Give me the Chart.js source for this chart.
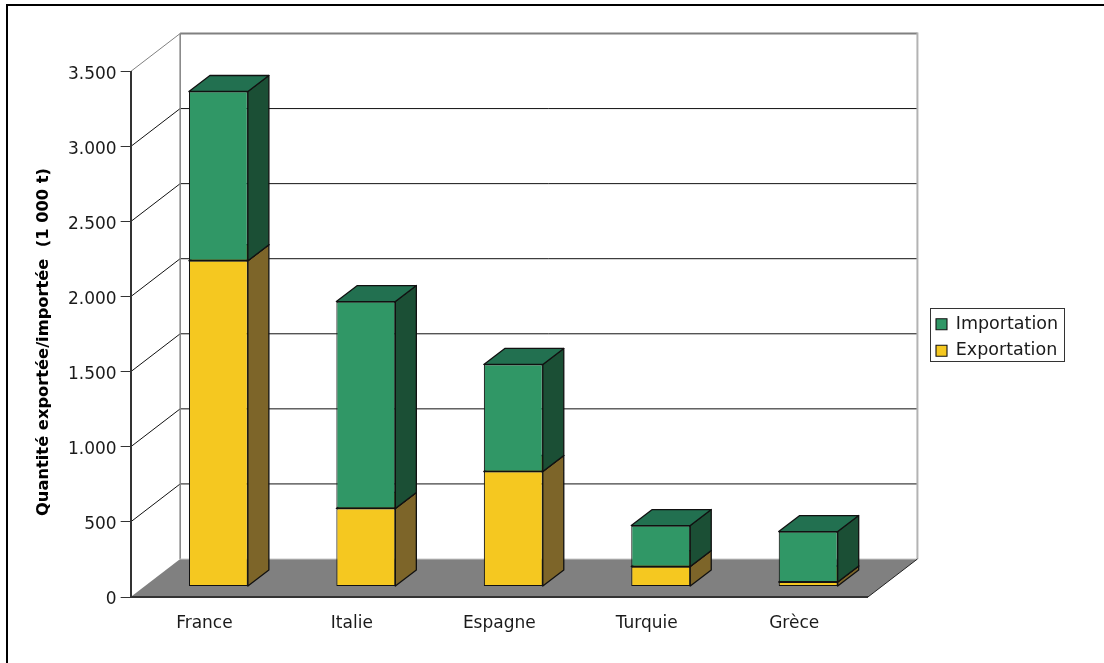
<!DOCTYPE html>
<html lang="fr">
<head>
<meta charset="utf-8">
<title>Quantité exportée/importée</title>
<script src="https://cdn.jsdelivr.net/npm/chart.js@4/dist/chart.umd.min.js"></script>
<style>
  html, body { margin: 0; padding: 0; background: #fff; overflow: hidden; }
  #frame {
    position: absolute;
    left: 6px; top: 4px; right: 0; bottom: 0;
    border-left: 2px solid #000;
    border-top: 2px solid #000;
  }
  #chart { position: absolute; left: 0; top: 0; }
</style>
</head>
<body>
<div id="frame"></div>
<canvas id="chart" width="1104" height="663"></canvas>
<script>
const categories = ['France', 'Italie', 'Espagne', 'Turquie', 'Grèce'];
const exportation = [2170, 520, 766, 133, 30];
const importation = [1127, 1378, 713, 273, 336];
const axisTitle = 'Quantité exportée/importée  (1 000 t)';

const FONT = '"DejaVu Sans", Verdana, sans-serif';
const TEXT_COLOR = '#1a1a1a';

// depth of the box behind the front plane, and where the bars sit inside it
const WALL = { dx: 49.5, dy: 38 };
const BAR_SHIFT = { dx: 14, dy: 10.5 };
const BAR_DEPTH = { dx: 21, dy: 16 };

const LEGEND_FRAME = { x: 930, y: 308, width: 134, height: 53 };

const FACES = {
  Exportation: { side: '#7d6529', top: '#a8891f' },
  Importation: { side: '#1b4f35', top: '#227050' }
};

function line (ctx, x0, y0, x1, y1, color, width) {
  ctx.beginPath();
  ctx.moveTo(x0, y0);
  ctx.lineTo(x1, y1);
  ctx.strokeStyle = color;
  ctx.lineWidth = width;
  ctx.stroke();
}

function polygon (ctx, points, fill) {
  ctx.beginPath();
  points.forEach(([x, y], i) => i ? ctx.lineTo(x, y) : ctx.moveTo(x, y));
  ctx.closePath();
  ctx.fillStyle = fill;
  ctx.fill();
  ctx.strokeStyle = '#111';
  ctx.lineWidth = 1.3;
  ctx.lineJoin = 'round';
  ctx.stroke();
}

// back wall, floor and the grid lines running round them
const boxPlugin = {
  id: 'box',
  beforeDraw (chart) {
    const { ctx, chartArea: { left, right } } = chart;
    const yScale = chart.scales.y;
    const top = yScale.getPixelForValue(yScale.max);
    const floor = yScale.getPixelForValue(0);
    const backLeft = left + WALL.dx;
    const backRight = right + WALL.dx;

    ctx.save();
    yScale.ticks.forEach(({ value }) => {
      if (value === 0) return;
      const y = yScale.getPixelForValue(value);
      const isTop = value === yScale.max;
      line(ctx, left, y, backLeft, y - WALL.dy, isTop ? '#808080' : '#111', 1);
      line(ctx, backLeft, y - WALL.dy, backRight, y - WALL.dy, isTop ? '#808080' : '#111', isTop ? 2 : 1);
    });
    line(ctx, backLeft, top - WALL.dy, backLeft, floor - WALL.dy, '#808080', 1.5);
    line(ctx, backRight, top - WALL.dy - 1, backRight, floor - WALL.dy, '#b3b3b3', 2);

    ctx.beginPath();
    ctx.moveTo(left, floor);
    ctx.lineTo(right, floor);
    ctx.lineTo(backRight, floor - WALL.dy);
    ctx.lineTo(backLeft, floor - WALL.dy);
    ctx.closePath();
    ctx.fillStyle = '#808080';
    ctx.fill();
    line(ctx, backLeft, floor - WALL.dy, backRight, floor - WALL.dy, '#c8c8c8', 1);
    line(ctx, right, floor, backRight, floor - WALL.dy, '#222', 1);
    ctx.restore();
  },
  // side and top faces of the stacked bars
  beforeDatasetsDraw (chart) {
    const { ctx } = chart;
    ctx.save();
    ctx.translate(BAR_SHIFT.dx, -BAR_SHIFT.dy);
    chart.data.datasets.forEach((dataset, i) => {
      const { dx, dy } = BAR_DEPTH;
      const colors = FACES[dataset.label];
      chart.getDatasetMeta(i).data.forEach(({ x, y, base, width }) => {
        const l = x - width / 2;
        const r = x + width / 2;
        polygon(ctx, [[r, y], [r + dx, y - dy], [r + dx, base - dy], [r, base]], colors.side);
        polygon(ctx, [[l, y], [l + dx, y - dy], [r + dx, y - dy], [r, y]], colors.top);
      });
    });
    ctx.restore();
  },
  beforeDatasetDraw (chart) {
    chart.ctx.save();
    chart.ctx.translate(BAR_SHIFT.dx, -BAR_SHIFT.dy);
  },
  afterDatasetDraw (chart) {
    chart.ctx.restore();
  },
  // the legend stands clear of the box, beyond its back edge; its own
  // bounds stay tall so the entries remain in one column
  afterLayout (chart) {
    const legend = chart.legend;
    legend.left = LEGEND_FRAME.x - 3;
    legend.right = legend.left + legend.width;
    legend.top = LEGEND_FRAME.y - 100 + 3;
    legend.bottom = LEGEND_FRAME.y + LEGEND_FRAME.height + 100 + 3;
  },
  afterDraw (chart) {
    const { ctx } = chart;
    ctx.save();
    ctx.strokeStyle = '#333';
    ctx.lineWidth = 1;
    ctx.strokeRect(LEGEND_FRAME.x + 0.5, LEGEND_FRAME.y + 0.5, LEGEND_FRAME.width, LEGEND_FRAME.height);

    ctx.translate(44, 342);
    ctx.rotate(-Math.PI / 2);
    ctx.font = 'bold 16.3px ' + FONT;
    ctx.fillStyle = '#000';
    ctx.textAlign = 'center';
    ctx.textBaseline = 'middle';
    ctx.fillText(axisTitle, 0, 0);
    ctx.restore();
  }
};

new Chart(document.getElementById('chart'), {
  type: 'bar',
  data: {
    labels: categories,
    datasets: [
      { label: 'Exportation', data: exportation, backgroundColor: '#f5c820', borderColor: '#111' },
      { label: 'Importation', data: importation, backgroundColor: '#309766', borderColor: '#111' }
    ]
  },
  plugins: [boxPlugin],
  options: {
    responsive: false,
    animation: false,
    layout: { padding: { left: 64, top: 71.5, right: 95, bottom: 10 } },
    datasets: {
      bar: { barPercentage: 0.4, categoryPercentage: 1, borderWidth: 1.1, borderSkipped: false }
    },
    scales: {
      x: {
        stacked: true,
        afterFit (scale) { scale.height = 56; },
        grid: { display: false },
        border: { color: '#333', width: 2 },
        ticks: { color: TEXT_COLOR, padding: 8, font: { family: FONT, size: 17 } }
      },
      y: {
        stacked: true,
        min: 0,
        max: 3500,
        grid: { drawOnChartArea: false, color: '#333', tickLength: 10 },
        border: { color: '#333', width: 2 },
        ticks: {
          stepSize: 500,
          color: TEXT_COLOR,
          padding: 4,
          labelOffset: 3,
          font: { family: FONT, size: 17 },
          callback: value => String(value).replace(/\B(?=(\d{3})+$)/g, '.')
        }
      }
    },
    plugins: {
      tooltip: { enabled: false },
      legend: {
        position: 'right',
        reverse: true,
        labels: {
          boxWidth: 11,
          boxHeight: 11,
          padding: 9,
          color: TEXT_COLOR,
          font: { family: FONT, size: 17.5 }
        }
      }
    }
  }
});
</script>
</body>
</html>
